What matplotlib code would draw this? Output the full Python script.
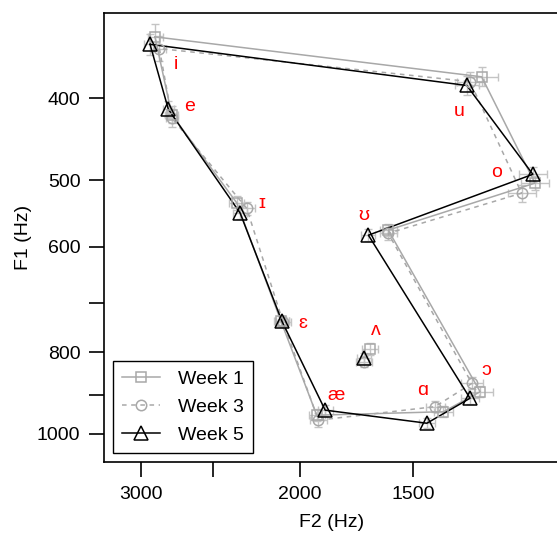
import numpy as np
import matplotlib
matplotlib.use("Agg")
import matplotlib.pyplot as plt
from matplotlib.ticker import FixedLocator, FixedFormatter, NullLocator

plt.rcParams['font.family'] = ['Liberation Sans', 'DejaVu Sans']

# vowel order: polygon i..u, then the loose one
vowels = ['i', 'e', 'ɪ', 'ɛ', 'æ', 'ɑ', 'ɔ', 'ʊ', 'o', 'u', 'ʌ']

week1_f2 = [2897, 2776, 2351, 2100, 1917, 1387, 1263, 1597, 1098, 1258, 1673]
week1_f1 = [338, 418, 532, 735, 950, 941, 891, 573, 504, 377, 793]
week1_f2_err = [55, 45, 45, 40, 40, 35, 40, 35, 40, 50, 35]
week1_f1_err = [12, 10, 10, 10, 15, 14, 14, 10, 10, 10, 12]

week3_f2 = [2865, 2774, 2292, 2089, 1909, 1417, 1290, 1597, 1136, 1296, 1701]
week3_f1 = [349, 422, 540, 737, 963, 928, 871, 578, 518, 382, 821]
week3_f2_err = [50, 45, 45, 40, 40, 35, 35, 35, 40, 45, 35]
week3_f1_err = [12, 10, 10, 10, 18, 14, 14, 10, 12, 10, 12]

week5_f2 = [2934, 2800, 2331, 2095, 1876, 1447, 1296, 1680, 1104, 1307, 1701]
week5_f1 = [345, 412, 547, 735, 937, 971, 907, 581, 492, 386, 813]
week5_f2_err = [45, 40, 40, 35, 35, 30, 30, 30, 40, 40, 30]
week5_f1_err = [10, 9, 9, 10, 14, 14, 14, 10, 10, 10, 12]

# label anchor positions (Hz)
label_f2 = [2746, 2649, 2206, 1985, 1824, 1462, 1242, 1699, 1210, 1332, 1648]
label_f1 = [365, 409, 533, 739, 899, 887, 840, 551, 490, 414, 753]

weeks = [
    ('Week 1', week1_f2, week1_f1, week1_f2_err, week1_f1_err, '#a8a8a8', '-', 's', 7.5),
    ('Week 3', week3_f2, week3_f1, week3_f2_err, week3_f1_err, '#a8a8a8', (0, (3, 3)), 'o', 7.5),
    ('Week 5', week5_f2, week5_f1, week5_f2_err, week5_f1_err, 'black', '-', '^', 10),
]

fig = plt.figure(figsize=(5.57, 5.33), dpi=100)
ax = fig.add_axes([104 / 557, 1 - 462 / 533, 456 / 557, 449 / 533])
ax.set_xscale('log')
ax.set_yscale('log')

n = 10  # polygon vowels
for name, f2, f1, e2, e1, col, ls, mk, ms in weeks:
    ax.errorbar(f2, f1, xerr=e2, yerr=e1, fmt='none', ecolor='#c4c4c4',
                elinewidth=1, capsize=3, zorder=1)
    px = list(f2[:n]) + [f2[0]]
    py = list(f1[:n]) + [f1[0]]
    ax.plot(px, py, color=col, ls=ls, lw=1.1, zorder=2)
    ax.plot(f2, f1, ls='none', marker=mk, ms=ms, mfc='none', mec=col,
            mew=1.1, zorder=3)
    # legend handle
    ax.plot([], [], color=col, ls=ls, lw=1.1, marker=mk, ms=ms, mfc='none',
            mec=col, mew=1.1, label=name)

for v, x, y in zip(vowels, label_f2, label_f1):
    ax.text(x, y, v, color='red', fontsize=14, ha='center', va='center',
            family=['Liberation Sans', 'DejaVu Sans'])

ax.set_xlim(3300, 1030)
ax.set_ylim(1079.5, 316.7)

ax.xaxis.set_major_locator(FixedLocator([3000, 2500, 2000, 1500]))
ax.xaxis.set_major_formatter(FixedFormatter(['3000', '', '2000', '1500']))
ax.xaxis.set_minor_locator(NullLocator())
ax.yaxis.set_major_locator(FixedLocator([400, 500, 600, 700, 800, 900, 1000]))
ax.yaxis.set_major_formatter(FixedFormatter(['400', '500', '600', '', '800', '', '1000']))
ax.yaxis.set_minor_locator(NullLocator())

ax.tick_params(direction='out', length=11, width=1.2, labelsize=14, pad=6)
for sp in ax.spines.values():
    sp.set_linewidth(1.2)

ax.set_xlabel('F2 (Hz)', fontsize=14)
ax.set_ylabel('F1 (Hz)', fontsize=14)
ax.xaxis.set_label_coords(0.5, -0.116)
ax.yaxis.set_label_coords(-0.157, 0.5)

leg = ax.legend(loc='lower left', bbox_to_anchor=(0.02, 0.02), borderaxespad=0,
                fontsize=14, handlelength=1.95, fancybox=False, framealpha=1,
                edgecolor='black', labelspacing=0.55, handletextpad=0.95,
                borderpad=0.45)
leg.get_frame().set_linewidth(1.0)

fig.savefig('out.png', dpi=100)
